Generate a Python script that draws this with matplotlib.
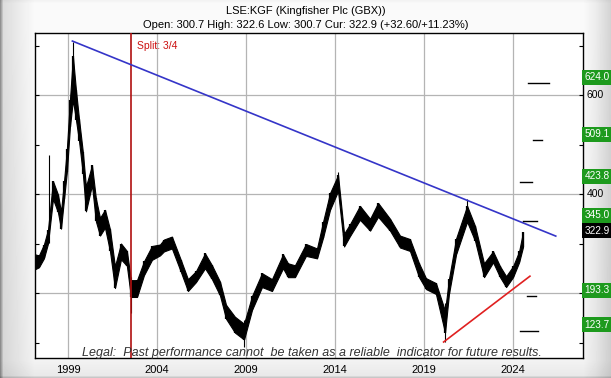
import numpy as np
import matplotlib
matplotlib.use("Agg")
import matplotlib.pyplot as plt
from matplotlib.transforms import blended_transform_factory

plt.rcParams['font.family'] = ['Liberation Sans', 'DejaVu Sans']

# price band (decimal year, low, high) in GBX
price_years = [1997.15, 1997.37, 1997.65, 1997.88, 1998.16, 1998.44, 1998.61, 1998.78,
               1998.94, 1999.11, 1999.28, 1999.45, 1999.62, 1999.84, 2000.01, 2000.35,
               2000.57, 2000.80, 2001.08, 2001.36, 2001.64, 2001.98, 2002.31, 2002.54,
               2002.88, 2003.27, 2003.72, 2004.17, 2004.39, 2004.84, 2005.35, 2005.74,
               2006.19, 2006.70, 2007.09, 2007.54, 2007.88, 2008.38, 2008.89, 2009.34,
               2009.90, 2010.46, 2011.08, 2011.36, 2011.75, 2012.37, 2012.99, 2013.33,
               2013.72, 2014.17, 2014.51, 2014.84, 2015.40, 2015.97, 2016.42, 2017.09,
               2017.65, 2018.21, 2018.72, 2019.11, 2019.67, 2020.18, 2020.40, 2020.80,
               2021.42, 2021.87, 2022.37, 2022.88, 2023.27, 2023.61, 2024.00, 2024.34,
               2024.56]
price_low = [248, 252, 270, 300, 390, 363, 330, 390,
             445, 535, 590, 550, 508, 440, 365, 418,
             345, 316, 332, 285, 210, 268, 255, 192,
             192, 236, 267, 276, 284, 290, 242, 204,
             222, 250, 228, 195, 148, 120, 106, 166,
             212, 204, 250, 232, 232, 275, 270, 312,
             368, 406, 294, 315, 348, 326, 354, 326,
             292, 285, 232, 208, 198, 120, 198, 278,
             344, 305, 232, 262, 232, 212, 232, 262,
             293]
price_high = [278, 276, 298, 328, 426, 399, 364, 426,
              491, 589, 678, 610, 552, 484, 415, 458,
              391, 352, 368, 329, 254, 300, 285, 226,
              226, 264, 295, 298, 308, 314, 266, 228,
              244, 280, 256, 223, 176, 152, 138, 194,
              240, 228, 278, 260, 256, 299, 290, 344,
              402, 438, 320, 339, 376, 350, 382, 350,
              316, 309, 260, 230, 220, 164, 228, 310,
              376, 335, 260, 284, 254, 234, 254, 284,
              323]

# isolated daily spikes
spike_years = [1997.93, 1999.30, 2002.54, 2008.89, 2014.17, 2020.18, 2021.42]
spike_low = [301, 600, 160, 91, 420, 101, 350]
spike_high = [479, 707, 232, 145, 444, 180, 390]

# trend lines
resist_years = [1999.25, 2026.40]
resist_values = [709, 315]
support_years = [2020.10, 2024.95]
support_values = [101, 234]
split_year = 2002.53

# targets on the right scale
target_levels = [624.0, 509.1, 423.8, 345.0, 193.3, 123.7]
target_start = [2024.84, 2025.12, 2024.39, 2024.56, 2024.79, 2024.39]
target_end = [2026.02, 2025.63, 2025.07, 2025.35, 2025.29, 2025.40]
current_price = 322.9

year_ticks = [1999, 2004, 2009, 2014, 2019, 2024]
grid_levels = [200, 400, 600]
right_labels = [600, 400]

W, H = 611, 378
fig = plt.figure(figsize=(W / 100, H / 100), dpi=100)

# grey bevelled backdrop
bg = fig.add_axes([0, 0, 1, 1])
bg.axis('off')
cols = np.interp(np.arange(W), [0, 3, 34, 583, 595, 611], [0.55, 0.84, 0.95, 0.95, 0.90, 0.80])
rows = np.interp(np.arange(H), [0, 3, 30, 360, 375, 378], [1.0, 1.03, 1.03, 1.0, 0.96, 0.75])
grad = np.clip(np.outer(rows, cols), 0, 1)
bg.imshow(grad, cmap='gray', vmin=0, vmax=1, aspect='auto', extent=[0, W, H, 0])
bg.set_xlim(0, W)
bg.set_ylim(H, 0)

ax = fig.add_axes([35 / W, 20 / H, 548 / W, 325 / H])
ax.set_facecolor('white')
ax.set_xlim(1997.15, 2027.93)
ax.set_ylim(68.7, 725.3)

for yr in year_ticks:
    ax.axvline(yr, color='#b4b4b4', lw=0.9, zorder=1)
for lv in grid_levels:
    ax.axhline(lv, color='#b4b4b4', lw=0.9, zorder=1)

ax.fill_between(price_years, price_low, price_high, color='black', lw=0.8, zorder=3)
ax.vlines(price_years, price_low, price_high, color='black', lw=1.6, zorder=3)
ax.vlines(spike_years, spike_low, spike_high, color='black', lw=0.8, zorder=3)

ax.axvline(split_year, color='#b01010', lw=1.2, zorder=4)
ax.text(split_year + 0.35, 700, 'Split: 3/4', color='#cc1111', fontsize=7.5,
        va='center', ha='left')

ax.plot(resist_years, resist_values, color='#3535c8', lw=1.2, zorder=5)
ax.plot(support_years, support_values, color='#e02020', lw=1.2, zorder=5)

for lv, x0, x1 in zip(target_levels, target_start, target_end):
    ax.plot([x0, x1], [lv, lv], color='black', lw=1.0, zorder=5)

ax.set_xticks(year_ticks)
ax.set_xticklabels([str(y) for y in year_ticks], fontsize=8)
ax.tick_params(axis='x', length=0, pad=5)
ax.set_yticks(range(100, 800, 100))
ax.tick_params(axis='y', left=True, right=True, direction='in', length=3,
               labelleft=False, labelright=False)
for sp in ax.spines.values():
    sp.set_color('black')
    sp.set_linewidth(1.0)

tr = blended_transform_factory(ax.transAxes, ax.transData)
for lv in right_labels:
    ax.text(1.006, lv, str(lv), transform=tr, fontsize=7.5, va='center', ha='left',
            clip_on=False)
for lv in target_levels:
    ax.text(1.003, lv + 12, f'{lv:.1f}', transform=tr, fontsize=7.2, color='white',
            va='center', ha='left', clip_on=False,
            bbox=dict(facecolor='#1d9a1d', edgecolor='none', pad=1.8))
ax.text(1.003, current_price + 3, f'{current_price:.1f}', transform=tr, fontsize=7.2,
        color='white', va='center', ha='left', clip_on=False,
        bbox=dict(facecolor='black', edgecolor='none', pad=1.8))

ax.text(0.505, 0.016, 'Legal:  Past performance cannot  be taken as a reliable  indicator for future results.',
        transform=ax.transAxes, fontsize=9.0, style='italic', color='#333333',
        ha='center', va='center', zorder=6)

fig.text(0.5, 1 - 11 / H, 'LSE:KGF (Kingfisher Plc (GBX))', fontsize=8, ha='center', va='center')
fig.text(0.5, 1 - 25 / H, 'Open: 300.7 High: 322.6 Low: 300.7 Cur: 322.9 (+32.60/+11.23%)',
         fontsize=8, ha='center', va='center')

fig.savefig('out.png', dpi=100)
